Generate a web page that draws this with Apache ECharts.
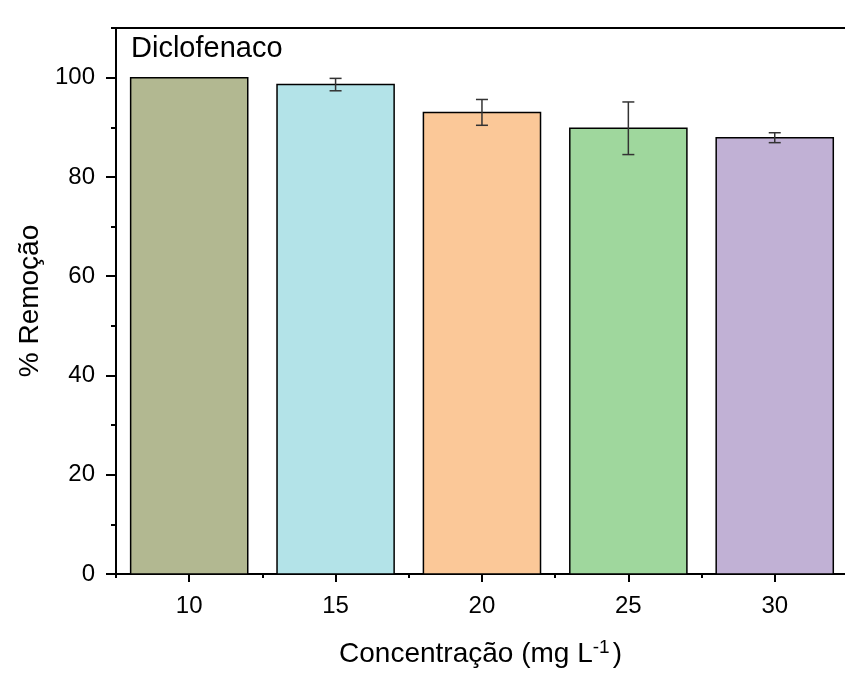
<!DOCTYPE html>
<html>
<head>
<meta charset="utf-8">
<script src="https://cdn.jsdelivr.net/npm/echarts@6/dist/echarts.min.js"></script>
<style>
html, body { margin: 0; padding: 0; background: #fff; overflow: hidden; }
#main { width: 845px; height: 673px; }
</style>
</head>
<body>
<div id="main"></div>
<script>
// dados
var concentracao = [10, 15, 20, 25, 30];
var remocao = [100, 98.6, 93.0, 89.8, 87.9];
var erro = [0, 1.25, 2.6, 5.3, 1.0];
var cores = ['#b2b891', '#b3e3e8', '#fbc898', '#9fd79d', '#c1b1d5'];
var xTicks = [10, 15, 20, 25, 30];
var xMinorTicks = [7.5, 12.5, 17.5, 22.5, 27.5];
var yTicks = [0, 20, 40, 60, 80, 100];
var yMinorTicks = [10, 30, 50, 70, 90, 110];

var fonte = 'Liberation Sans, Arial, sans-serif';

function barItem(params, api) {
    var x = api.value(0), y = api.value(1);
    var p1 = api.coord([x - 2, y]);
    var p2 = api.coord([x + 2, 0]);
    return {
        type: 'rect',
        shape: { x: p1[0], y: p1[1], width: p2[0] - p1[0], height: p2[1] - p1[1] },
        style: { fill: cores[params.dataIndex], stroke: '#000', lineWidth: 1.5 }
    };
}

function errItem(params, api) {
    var x = api.value(0);
    var top = api.coord([x, api.value(2)]);
    var bot = api.coord([x, api.value(1)]);
    var c = 6;
    var st = { stroke: '#333', lineWidth: 1.5 };
    return {
        type: 'group',
        children: [
            { type: 'line', shape: { x1: top[0], y1: top[1], x2: bot[0], y2: bot[1] }, style: st },
            { type: 'line', shape: { x1: top[0] - c, y1: top[1], x2: top[0] + c, y2: top[1] }, style: st },
            { type: 'line', shape: { x1: bot[0] - c, y1: bot[1], x2: bot[0] + c, y2: bot[1] }, style: st }
        ]
    };
}

function optionData() {
    var barData = [], errData = [];
    for (var i = 0; i < concentracao.length; i++) {
        barData.push([concentracao[i], remocao[i]]);
        if (erro[i] > 0) {
            errData.push([concentracao[i], remocao[i] - erro[i], remocao[i] + erro[i]]);
        }
    }
    var lineSt = { color: '#000', width: 2 };
    var option = {};
    option.animation = false;
    option.grid = { left: 116, right: 0, top: 28, bottom: 88 };
    option.graphic = [{
        type: 'text', left: 131, top: 34,
        style: { text: 'Diclofenaco', fontSize: 29, fontFamily: fonte, fill: '#000' }
    }];
    option.xAxis = [
        {
            type: 'value', min: 7.5, max: 32.4, position: 'bottom', offset: 0,
            splitLine: { show: false },
            axisLine: { lineStyle: lineSt },
            axisTick: { customValues: xTicks, length: 8, lineStyle: lineSt },
            axisLabel: { customValues: xTicks, margin: 20, fontSize: 24, fontFamily: fonte, color: '#000' },
            name: 'Concentração (mg L{sup|-1})',
            nameLocation: 'middle', nameGap: 64,
            nameTextStyle: {
                fontSize: 28, fontFamily: fonte, color: '#000',
                rich: { sup: { fontSize: 19, fontFamily: fonte, color: '#000', verticalAlign: 'top', padding: [0, 3, 13, 0] } }
            }
        },
        {
            type: 'value', min: 7.5, max: 32.4, position: 'bottom', offset: 0,
            splitLine: { show: false },
            axisLine: { show: false },
            axisTick: { customValues: xMinorTicks, length: 4, lineStyle: lineSt },
            axisLabel: { show: false }
        },
        {
            type: 'value', min: 7.5, max: 32.4, position: 'top', offset: 0,
            splitLine: { show: false },
            axisLine: { lineStyle: lineSt },
            axisTick: { show: false },
            axisLabel: { show: false }
        }
    ];
    option.yAxis = [
        {
            type: 'value', min: 0, max: 110, position: 'left', offset: 0,
            splitLine: { show: false },
            axisLine: { show: true, lineStyle: lineSt },
            axisTick: { show: true, customValues: yTicks, length: 10, lineStyle: lineSt },
            axisLabel: { customValues: yTicks, margin: 21, fontSize: 24, fontFamily: fonte, color: '#000' },
            name: '% Remoção',
            nameLocation: 'middle', nameGap: 71,
            nameTextStyle: { fontSize: 28, fontFamily: fonte, color: '#000' }
        },
        {
            type: 'value', min: 0, max: 110, position: 'left', offset: 0,
            splitLine: { show: false },
            axisLine: { show: false },
            axisTick: { show: true, customValues: yMinorTicks, length: 5, lineStyle: lineSt },
            axisLabel: { show: false }
        }
    ];
    option.series = [
        { type: 'custom', xAxisIndex: 0, yAxisIndex: 0, renderItem: barItem, data: barData, clip: false },
        { type: 'custom', xAxisIndex: 0, yAxisIndex: 0, renderItem: errItem, data: errData, z: 3 }
    ];
    return option;
}

var main = document.getElementById('main');
echarts.init(main, null, { width: 845, height: 673 }).setOption(optionData());
</script>
</body>
</html>
